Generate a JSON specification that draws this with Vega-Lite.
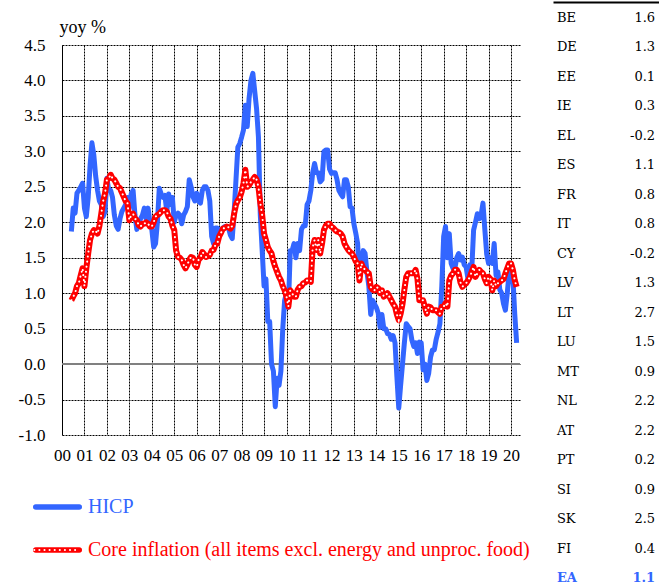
{
  "$schema": "https://vega.github.io/schema/vega-lite/v6.json",
  "background": "white",
  "padding": {"left": 18, "top": 0, "right": 0, "bottom": 0},
  "columns": 2,
  "align": "none",
  "spacing": 32,
  "config": {
    "font": "Liberation Serif",
    "view": {"stroke": null},
    "axis": {"labelColor": "#000", "titleColor": "#000", "labelFont": "Liberation Serif", "titleFont": "Liberation Serif"}
  },
  "concat": [
    {
      "width": 458,
      "height": 390,
      "data": {"values": [
        {"t":2000.417,"h":1.87,"c":0.9},{"t":2000.5,"h":2.2,"c":0.95},{"t":2000.583,"h":2.13,"c":1.0},{"t":2000.667,"h":2.41,"c":1.1},{"t":2000.75,"h":2.45,"c":1.14},{"t":2000.833,"h":2.5,"c":1.25},{"t":2000.917,"h":2.55,"c":1.35},
        {"t":2001.0,"h":2.2,"c":1.1},{"t":2001.083,"h":2.08,"c":1.35},{"t":2001.167,"h":2.35,"c":1.56},{"t":2001.25,"h":2.8,"c":1.75},{"t":2001.333,"h":3.12,"c":1.84},{"t":2001.417,"h":2.95,"c":1.89},{"t":2001.5,"h":2.65,"c":1.88},{"t":2001.583,"h":2.45,"c":1.84},{"t":2001.667,"h":2.3,"c":1.95},{"t":2001.75,"h":2.25,"c":2.12},{"t":2001.833,"h":2.08,"c":2.3},{"t":2001.917,"h":2.15,"c":2.41},
        {"t":2002.0,"h":2.62,"c":2.6},{"t":2002.083,"h":2.45,"c":2.62},{"t":2002.167,"h":2.45,"c":2.67},{"t":2002.25,"h":2.35,"c":2.62},{"t":2002.333,"h":2.1,"c":2.6},{"t":2002.417,"h":1.95,"c":2.55},{"t":2002.5,"h":1.9,"c":2.5},{"t":2002.583,"h":2.05,"c":2.48},{"t":2002.667,"h":2.15,"c":2.42},{"t":2002.75,"h":2.2,"c":2.36},{"t":2002.833,"h":2.25,"c":2.3},{"t":2002.917,"h":2.35,"c":2.27},
        {"t":2003.0,"h":2.2,"c":2.03},{"t":2003.083,"h":2.4,"c":2.1},{"t":2003.167,"h":2.45,"c":2.12},{"t":2003.25,"h":2.1,"c":2.05},{"t":2003.333,"h":1.9,"c":2.03},{"t":2003.417,"h":2.0,"c":1.96},{"t":2003.5,"h":2.05,"c":1.94},{"t":2003.583,"h":2.1,"c":1.98},{"t":2003.667,"h":2.2,"c":1.98},{"t":2003.75,"h":2.05,"c":2.0},{"t":2003.833,"h":2.2,"c":1.98},{"t":2003.917,"h":2.0,"c":1.94},
        {"t":2004.0,"h":1.9,"c":1.94},{"t":2004.083,"h":1.65,"c":2.0},{"t":2004.167,"h":1.7,"c":2.08},{"t":2004.25,"h":2.0,"c":2.1},{"t":2004.333,"h":2.48,"c":2.12},{"t":2004.417,"h":2.4,"c":2.15},{"t":2004.5,"h":2.35,"c":2.17},{"t":2004.583,"h":2.38,"c":2.17},{"t":2004.667,"h":2.15,"c":2.15},{"t":2004.75,"h":2.4,"c":2.08},{"t":2004.833,"h":2.25,"c":2.05},{"t":2004.917,"h":2.35,"c":1.95},
        {"t":2005.0,"h":2.0,"c":1.89},{"t":2005.083,"h":2.1,"c":1.6},{"t":2005.167,"h":2.13,"c":1.51},{"t":2005.25,"h":2.1,"c":1.5},{"t":2005.333,"h":1.98,"c":1.47},{"t":2005.417,"h":2.1,"c":1.4},{"t":2005.5,"h":2.15,"c":1.35},{"t":2005.583,"h":2.22,"c":1.4},{"t":2005.667,"h":2.6,"c":1.47},{"t":2005.75,"h":2.5,"c":1.51},{"t":2005.833,"h":2.36,"c":1.5},{"t":2005.917,"h":2.3,"c":1.4},
        {"t":2006.0,"h":2.41,"c":1.37},{"t":2006.083,"h":2.3,"c":1.47},{"t":2006.167,"h":2.27,"c":1.5},{"t":2006.25,"h":2.45,"c":1.58},{"t":2006.333,"h":2.5,"c":1.55},{"t":2006.417,"h":2.5,"c":1.51},{"t":2006.5,"h":2.45,"c":1.52},{"t":2006.583,"h":2.3,"c":1.54},{"t":2006.667,"h":1.8,"c":1.6},{"t":2006.75,"h":1.7,"c":1.61},{"t":2006.833,"h":1.92,"c":1.68},{"t":2006.917,"h":1.92,"c":1.7},
        {"t":2007.0,"h":1.85,"c":1.8},{"t":2007.083,"h":1.85,"c":1.85},{"t":2007.167,"h":1.92,"c":1.91},{"t":2007.25,"h":1.94,"c":1.92},{"t":2007.333,"h":1.94,"c":1.94},{"t":2007.417,"h":1.92,"c":1.93},{"t":2007.5,"h":1.82,"c":1.91},{"t":2007.583,"h":1.77,"c":1.95},{"t":2007.667,"h":2.15,"c":2.12},{"t":2007.75,"h":2.6,"c":2.25},{"t":2007.833,"h":3.06,"c":2.31},{"t":2007.917,"h":3.11,"c":2.35},
        {"t":2008.0,"h":3.2,"c":2.43},{"t":2008.083,"h":3.3,"c":2.55},{"t":2008.167,"h":3.65,"c":2.74},{"t":2008.25,"h":3.35,"c":2.5},{"t":2008.333,"h":3.75,"c":2.52},{"t":2008.417,"h":4.0,"c":2.57},{"t":2008.5,"h":4.1,"c":2.6},{"t":2008.583,"h":3.85,"c":2.64},{"t":2008.667,"h":3.6,"c":2.6},{"t":2008.75,"h":3.2,"c":2.5},{"t":2008.833,"h":2.1,"c":2.27},{"t":2008.917,"h":1.6,"c":2.1},
        {"t":2009.0,"h":1.1,"c":1.84},{"t":2009.083,"h":1.2,"c":1.75},{"t":2009.167,"h":0.6,"c":1.65},{"t":2009.25,"h":0.6,"c":1.6},{"t":2009.333,"h":0.0,"c":1.56},{"t":2009.417,"h":-0.1,"c":1.45},{"t":2009.5,"h":-0.6,"c":1.37},{"t":2009.583,"h":-0.2,"c":1.3},{"t":2009.667,"h":-0.3,"c":1.23},{"t":2009.75,"h":-0.1,"c":1.18},{"t":2009.833,"h":0.5,"c":1.1},{"t":2009.917,"h":0.9,"c":1.04},
        {"t":2010.0,"h":1.0,"c":0.95},{"t":2010.083,"h":0.8,"c":0.81},{"t":2010.167,"h":1.6,"c":1.04},{"t":2010.25,"h":1.6,"c":1.0},{"t":2010.333,"h":1.7,"c":0.95},{"t":2010.417,"h":1.5,"c":0.95},{"t":2010.5,"h":1.7,"c":1.05},{"t":2010.583,"h":1.6,"c":1.09},{"t":2010.667,"h":1.9,"c":1.1},{"t":2010.75,"h":1.95,"c":1.14},{"t":2010.833,"h":1.95,"c":1.15},{"t":2010.917,"h":2.25,"c":1.18},
        {"t":2011.0,"h":2.3,"c":1.18},{"t":2011.083,"h":2.45,"c":1.16},{"t":2011.167,"h":2.7,"c":1.65},{"t":2011.25,"h":2.83,"c":1.75},{"t":2011.333,"h":2.7,"c":1.61},{"t":2011.417,"h":2.7,"c":1.75},{"t":2011.5,"h":2.57,"c":1.56},{"t":2011.583,"h":2.6,"c":1.7},{"t":2011.667,"h":3.0,"c":1.89},{"t":2011.75,"h":3.02,"c":1.95},{"t":2011.833,"h":3.02,"c":1.98},{"t":2011.917,"h":2.75,"c":1.98},
        {"t":2012.0,"h":2.69,"c":1.94},{"t":2012.083,"h":2.7,"c":1.92},{"t":2012.167,"h":2.7,"c":1.89},{"t":2012.25,"h":2.6,"c":1.87},{"t":2012.333,"h":2.45,"c":1.86},{"t":2012.417,"h":2.4,"c":1.84},{"t":2012.5,"h":2.36,"c":1.8},{"t":2012.583,"h":2.6,"c":1.7},{"t":2012.667,"h":2.6,"c":1.65},{"t":2012.75,"h":2.5,"c":1.61},{"t":2012.833,"h":2.22,"c":1.58},{"t":2012.917,"h":2.2,"c":1.56},
        {"t":2013.0,"h":1.98,"c":1.51},{"t":2013.083,"h":1.85,"c":1.45},{"t":2013.167,"h":1.7,"c":1.42},{"t":2013.25,"h":1.23,"c":1.18},{"t":2013.333,"h":1.4,"c":1.42},{"t":2013.417,"h":1.6,"c":1.36},{"t":2013.5,"h":1.56,"c":1.33},{"t":2013.583,"h":1.3,"c":1.3},{"t":2013.667,"h":1.1,"c":1.28},{"t":2013.75,"h":0.7,"c":1.09},{"t":2013.833,"h":0.9,"c":1.05},{"t":2013.917,"h":0.85,"c":1.04},
        {"t":2014.0,"h":0.8,"c":1.09},{"t":2014.083,"h":0.72,"c":1.07},{"t":2014.167,"h":0.52,"c":1.0},{"t":2014.25,"h":0.7,"c":1.04},{"t":2014.333,"h":0.5,"c":0.95},{"t":2014.417,"h":0.5,"c":0.97},{"t":2014.5,"h":0.43,"c":1.0},{"t":2014.583,"h":0.42,"c":0.95},{"t":2014.667,"h":0.35,"c":0.9},{"t":2014.75,"h":0.4,"c":0.85},{"t":2014.833,"h":0.3,"c":0.81},{"t":2014.917,"h":-0.18,"c":0.7},
        {"t":2015.0,"h":-0.62,"c":0.62},{"t":2015.083,"h":-0.3,"c":0.71},{"t":2015.167,"h":0.0,"c":0.85},{"t":2015.25,"h":0.3,"c":1.05},{"t":2015.333,"h":0.57,"c":1.23},{"t":2015.417,"h":0.53,"c":1.28},{"t":2015.5,"h":0.5,"c":1.28},{"t":2015.583,"h":0.34,"c":1.28},{"t":2015.667,"h":0.25,"c":1.28},{"t":2015.75,"h":0.3,"c":1.33},{"t":2015.833,"h":0.15,"c":1.2},{"t":2015.917,"h":0.31,"c":0.9},
        {"t":2016.0,"h":0.3,"c":0.9},{"t":2016.083,"h":-0.08,"c":0.9},{"t":2016.167,"h":0.0,"c":0.8},{"t":2016.25,"h":-0.23,"c":0.71},{"t":2016.333,"h":-0.13,"c":0.81},{"t":2016.417,"h":0.1,"c":0.8},{"t":2016.5,"h":0.2,"c":0.76},{"t":2016.583,"h":0.2,"c":0.76},{"t":2016.667,"h":0.35,"c":0.76},{"t":2016.75,"h":0.45,"c":0.73},{"t":2016.833,"h":0.57,"c":0.71},{"t":2016.917,"h":1.1,"c":0.81},
        {"t":2017.0,"h":1.8,"c":0.81},{"t":2017.083,"h":1.94,"c":0.86},{"t":2017.167,"h":1.5,"c":0.81},{"t":2017.25,"h":1.84,"c":1.18},{"t":2017.333,"h":1.42,"c":1.25},{"t":2017.417,"h":1.35,"c":1.28},{"t":2017.5,"h":1.35,"c":1.33},{"t":2017.583,"h":1.5,"c":1.33},{"t":2017.667,"h":1.56,"c":1.28},{"t":2017.75,"h":1.47,"c":1.15},{"t":2017.833,"h":1.51,"c":1.09},{"t":2017.917,"h":1.4,"c":1.12},
        {"t":2018.0,"h":1.37,"c":1.14},{"t":2018.083,"h":1.2,"c":1.18},{"t":2018.167,"h":1.4,"c":1.23},{"t":2018.25,"h":1.32,"c":1.3},{"t":2018.333,"h":1.89,"c":1.37},{"t":2018.417,"h":2.0,"c":1.23},{"t":2018.5,"h":2.12,"c":1.28},{"t":2018.583,"h":2.05,"c":1.33},{"t":2018.667,"h":2.1,"c":1.3},{"t":2018.75,"h":2.27,"c":1.28},{"t":2018.833,"h":1.9,"c":1.2},{"t":2018.917,"h":1.55,"c":1.14},
        {"t":2019.0,"h":1.42,"c":1.23},{"t":2019.083,"h":1.5,"c":1.2},{"t":2019.167,"h":1.42,"c":1.04},{"t":2019.25,"h":1.7,"c":1.18},{"t":2019.333,"h":1.25,"c":1.1},{"t":2019.417,"h":1.3,"c":1.14},{"t":2019.5,"h":1.05,"c":1.16},{"t":2019.583,"h":1.0,"c":1.18},{"t":2019.667,"h":0.85,"c":1.2},{"t":2019.75,"h":0.76,"c":1.28},{"t":2019.833,"h":1.0,"c":1.35},{"t":2019.917,"h":1.3,"c":1.42},
        {"t":2020.0,"h":1.4,"c":1.42},{"t":2020.083,"h":1.23,"c":1.33},{"t":2020.167,"h":0.7,"c":1.18},{"t":2020.25,"h":0.3,"c":1.09}
      ]},
      "layer": [
        {
          "mark": {"type": "rule", "color": "#808080", "strokeWidth": 2},
          "encoding": {
            "y": {"datum": 0, "type": "quantitative", "title": ["", "yoy %"],
              "scale": {"domain": [-1, 4.5], "nice": false, "zero": false},
              "axis": {"values": [-1,-0.5,0,0.5,1,1.5,2,2.5,3,3.5,4,4.5], "labelExpr": "replace(format(datum.value, '.1f'), '\u2212', '-')", "grid": true, "gridColor": "#000", "gridDash": [2, 1], "gridWidth": 1, "gridOpacity": 1,
                "domain": true, "domainColor": "#000", "domainWidth": 1, "ticks": false, "labelFontSize": 17, "labelPadding": 17,
                "titleAngle": 0, "titleAlign": "left", "titleBaseline": "alphabetic", "titleX": -3, "titleY": -31, "titleLineHeight": 18, "titleFontSize": 18, "titleFontWeight": "normal"}}
          }
        },
        {
          "mark": {"type": "line", "strokeWidth": 5, "strokeJoin": "round"},
          "encoding": {
            "x": {"field": "t", "type": "quantitative",
              "scale": {"domain": [2000, 2020.4], "nice": false, "zero": false},
              "axis": {"values": [2000,2001,2002,2003,2004,2005,2006,2007,2008,2009,2010,2011,2012,2013,2014,2015,2016,2017,2018,2019,2020],
                "labelExpr": "format(datum.value % 100, '02d')", "title": null, "grid": true, "gridColor": "#000", "gridDash": [2, 1], "gridWidth": 1, "gridOpacity": 1,
                "domain": false, "ticks": false, "labelFontSize": 17, "labelPadding": 12, "labelFlush": false, "labelOverlap": false}},
            "y": {"field": "h", "type": "quantitative", "title": ["", "yoy %"],
              "axis": {"values": [-1,-0.5,0,0.5,1,1.5,2,2.5,3,3.5,4,4.5], "labelExpr": "replace(format(datum.value, '.1f'), '\u2212', '-')", "grid": true, "gridColor": "#000", "gridDash": [2, 1], "gridWidth": 1, "gridOpacity": 1,
                "domain": true, "domainColor": "#000", "domainWidth": 1, "ticks": false, "labelFontSize": 17, "labelPadding": 17,
                "titleAngle": 0, "titleAlign": "left", "titleBaseline": "alphabetic", "titleX": -3, "titleY": -31, "titleLineHeight": 18, "titleFontSize": 18, "titleFontWeight": "normal"}},
            "color": {"datum": "HICP", "type": "nominal",
              "scale": {"domain": ["HICP", "Core"], "range": ["#3366ff", "#ff0000"]},
              "legend": {"orient": "none", "legendX": -29, "legendY": 452, "title": null, "symbolType": "stroke", "symbolSize": 1892, "symbolStrokeWidth": 5.5,
                "labelFont": "Liberation Serif", "labelFontSize": 20, "labelOffset": 6, "rowPadding": 23, "clipHeight": 20, "padding": 0, "labelLimit": 700,
                "labelExpr": "datum.value == 'HICP' ? 'HICP' : 'Core inflation (all items excl. energy and unproc. food)'",
                "encode": {"labels": {"update": {"fill": {"signal": "datum.value == 'HICP' ? '#3366ff' : '#ff0000'"}}}, "symbols": {"update": {"strokeCap": {"value": "round"}}}}}
            }
          }
        },
        {
          "mark": {"type": "line", "strokeWidth": 6, "strokeJoin": "round"},
          "encoding": {
            "x": {"field": "t", "type": "quantitative",
              "axis": {"values": [2000,2001,2002,2003,2004,2005,2006,2007,2008,2009,2010,2011,2012,2013,2014,2015,2016,2017,2018,2019,2020],
                "labelExpr": "format(datum.value % 100, '02d')", "title": null, "grid": true, "gridColor": "#000", "gridDash": [2, 1], "gridWidth": 1, "gridOpacity": 1,
                "domain": false, "ticks": false, "labelFontSize": 17, "labelPadding": 12, "labelFlush": false, "labelOverlap": false}},
            "y": {"field": "c", "type": "quantitative", "title": ["", "yoy %"],
              "axis": {"values": [-1,-0.5,0,0.5,1,1.5,2,2.5,3,3.5,4,4.5], "labelExpr": "replace(format(datum.value, '.1f'), '\u2212', '-')", "grid": true, "gridColor": "#000", "gridDash": [2, 1], "gridWidth": 1, "gridOpacity": 1,
                "domain": true, "domainColor": "#000", "domainWidth": 1, "ticks": false, "labelFontSize": 17, "labelPadding": 17,
                "titleAngle": 0, "titleAlign": "left", "titleBaseline": "alphabetic", "titleX": -3, "titleY": -31, "titleLineHeight": 18, "titleFontSize": 18, "titleFontWeight": "normal"}},
            "color": {"datum": "Core", "type": "nominal"}
          }
        },
        {
          "mark": {"type": "line", "stroke": "#ffffff", "strokeWidth": 2, "strokeCap": "round"},
          "encoding": {
            "x": {"field": "t", "type": "quantitative",
              "axis": {"values": [2000,2001,2002,2003,2004,2005,2006,2007,2008,2009,2010,2011,2012,2013,2014,2015,2016,2017,2018,2019,2020],
                "labelExpr": "format(datum.value % 100, '02d')", "title": null, "grid": true, "gridColor": "#000", "gridDash": [2, 1], "gridWidth": 1, "gridOpacity": 1,
                "domain": false, "ticks": false, "labelFontSize": 17, "labelPadding": 12, "labelFlush": false, "labelOverlap": false}},
            "y": {"field": "c", "type": "quantitative", "title": ["", "yoy %"],
              "axis": {"values": [-1,-0.5,0,0.5,1,1.5,2,2.5,3,3.5,4,4.5], "labelExpr": "replace(format(datum.value, '.1f'), '\u2212', '-')", "grid": true, "gridColor": "#000", "gridDash": [2, 1], "gridWidth": 1, "gridOpacity": 1,
                "domain": true, "domainColor": "#000", "domainWidth": 1, "ticks": false, "labelFontSize": 17, "labelPadding": 17,
                "titleAngle": 0, "titleAlign": "left", "titleBaseline": "alphabetic", "titleX": -3, "titleY": -31, "titleLineHeight": 18, "titleFontSize": 18, "titleFontWeight": "normal"}},
            "strokeDash": {"datum": "Core", "type": "nominal", "scale": {"domain": ["Core"], "range": [[0.1, 5]]},
              "legend": {"orient": "none", "legendX": -29, "legendY": 495, "title": null, "symbolType": "stroke", "symbolSize": 1892, "symbolStrokeWidth": 2,
                "symbolStrokeColor": "#ffffff", "labelExpr": "''", "clipHeight": 20, "padding": 0, "labelOffset": 0,
                "encode": {"symbols": {"update": {"strokeCap": {"value": "round"}, "stroke": {"value": "#ffffff"}}}}}}
          }
        }
      ]
    },
    {
      "width": 106,
      "height": 560,
      "data": {"values": [
        {"code": "BE", "v": "1.6"}, {"code": "DE", "v": "1.3"}, {"code": "EE", "v": "0.1"}, {"code": "IE", "v": "0.3"},
        {"code": "EL", "v": "-0.2"}, {"code": "ES", "v": "1.1"}, {"code": "FR", "v": "0.8"}, {"code": "IT", "v": "0.8"},
        {"code": "CY", "v": "-0.2"}, {"code": "LV", "v": "1.3"}, {"code": "LT", "v": "2.7"}, {"code": "LU", "v": "1.5"},
        {"code": "MT", "v": "0.9"}, {"code": "NL", "v": "2.2"}, {"code": "AT", "v": "2.2"}, {"code": "PT", "v": "0.2"},
        {"code": "SI", "v": "0.9"}, {"code": "SK", "v": "2.5"}, {"code": "FI", "v": "0.4"}, {"code": "EA", "v": "1.1"}
      ]},
      "encoding": {
        "y": {"field": "code", "type": "nominal", "axis": null,
          "scale": {"type": "point", "padding": 0, "domain": ["BE","DE","EE","IE","EL","ES","FR","IT","CY","LV","LT","LU","MT","NL","AT","PT","SI","SK","FI","EA"]}}
      },
      "layer": [
        {
          "transform": [{"filter": "datum.code !== 'EA'"}],
          "mark": {"type": "text", "align": "left", "baseline": "middle", "font": "DejaVu Serif", "fontSize": 13, "color": "#000", "dy": -27},
          "encoding": {
            "x": {"datum": "code", "type": "nominal", "scale": {"type": "point", "padding": 0.04},
              "axis": {"orient": "top", "offset": 43, "domain": true, "domainColor": "#000", "domainWidth": 2, "labels": false, "ticks": false, "grid": false, "title": null}},
            "text": {"field": "code"}
          }
        },
        {
          "transform": [{"filter": "datum.code !== 'EA'"}],
          "mark": {"type": "text", "align": "right", "baseline": "middle", "font": "DejaVu Serif", "fontSize": 13, "color": "#000", "dy": -27},
          "encoding": {
            "x": {"datum": "value", "type": "nominal",
              "axis": {"orient": "top", "offset": 43, "domain": true, "domainColor": "#000", "domainWidth": 2, "labels": false, "ticks": false, "grid": false, "title": null}},
            "text": {"field": "v"}
          }
        },
        {
          "transform": [{"filter": "datum.code === 'EA'"}],
          "mark": {"type": "text", "align": "left", "baseline": "middle", "font": "DejaVu Serif", "fontSize": 13, "fontWeight": "bold", "color": "#3366ff", "dy": -27},
          "encoding": {
            "x": {"datum": "code", "type": "nominal",
              "axis": {"orient": "top", "offset": 43, "domain": true, "domainColor": "#000", "domainWidth": 2, "labels": false, "ticks": false, "grid": false, "title": null}},
            "text": {"field": "code"}
          }
        },
        {
          "transform": [{"filter": "datum.code === 'EA'"}],
          "mark": {"type": "text", "align": "right", "baseline": "middle", "font": "DejaVu Serif", "fontSize": 13, "fontWeight": "bold", "color": "#3366ff", "dy": -27},
          "encoding": {
            "x": {"datum": "value", "type": "nominal",
              "axis": {"orient": "top", "offset": 43, "domain": true, "domainColor": "#000", "domainWidth": 2, "labels": false, "ticks": false, "grid": false, "title": null}},
            "text": {"field": "v"}
          }
        }
      ]
    }
  ]
}
